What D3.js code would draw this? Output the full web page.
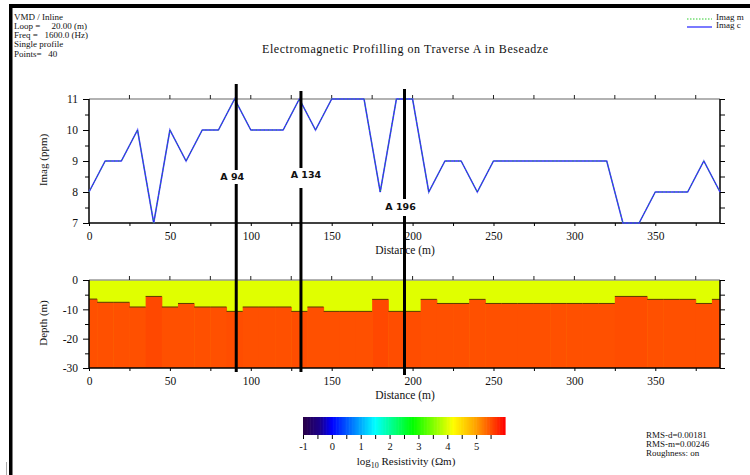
<!DOCTYPE html>
<html>
<head>
<meta charset="utf-8">
<script src="https://cdn.jsdelivr.net/npm/d3@7"></script>
<style>
    body { margin: 0; background: #fff; }
    svg { display: block; }
    text { fill: #111; }
</style>
</head>
<body>
<div id="chart"></div>
<script>
// Station distances (m)
const distances = d3.range(0, 400, 10);

// Imaginary component (ppm), measured and calculated
const imagM = [8, 9, 9, 10, 7, 10, 9, 10, 10, 11, 10, 10, 10, 11, 10, 11, 11, 11, 8, 11,
    11, 8, 9, 9, 8, 9, 9, 9, 9, 9, 9, 9, 9, 7, 7, 8, 8, 8, 9, 8];
const imagC = [8, 9, 9, 10, 7, 10, 9, 10, 10, 11, 10, 10, 10, 11, 10, 11, 11, 11, 8, 11,
    11, 8, 9, 9, 8, 9, 9, 9, 9, 9, 9, 9, 9, 7, 7, 8, 8, 8, 9, 8];

// Depth of the layer boundary below each station (m)
const interfaceDepth = [-6.5, -7.6, -7.6, -9.2, -5.6, -9.2, -8.0, -9.2, -9.2, -10.7,
    -9.2, -9.2, -9.2, -10.7, -9.2, -10.7, -10.7, -10.7, -6.6, -10.7,
    -10.7, -6.6, -8.0, -8.0, -6.6, -8.0, -8.0, -8.0, -8.0, -8.0,
    -8.0, -8.0, -8.0, -5.6, -5.6, -6.6, -6.6, -6.6, -8.0, -6.6];

// log10 resistivity of the two layers
const topLayerRes = 4.03;
const bottomLayerRes = [5.5, 5.5, 5.5, 5.5, 5.55, 5.5, 5.5, 5.5, 5.5, 5.52,
    5.5, 5.5, 5.5, 5.52, 5.5, 5.5, 5.5, 5.5, 5.55, 5.52,
    5.52, 5.5, 5.5, 5.5, 5.5, 5.5, 5.5, 5.5, 5.5, 5.5,
    5.5, 5.5, 5.5, 5.52, 5.52, 5.5, 5.5, 5.5, 5.5, 5.5];

// Annotated anomalies
const markerLabels = ['A 94', 'A 134', 'A 196'];
const markerDistances = [91, 131, 195];

// Tick labels
const distanceTicks = [0, 50, 100, 150, 200, 250, 300, 350];
const imagTicks = [7, 8, 9, 10, 11];
const depthTicks = [0, -10, -20, -30];
const resTicks = [-1, 0, 1, 2, 3, 4, 5];

const headerLines = ['VMD / Inline', 'Loop =     20.00 (m)', 'Freq =   1600.0 (Hz)', 'Single profile', 'Points=   40'];
const statsLines = ['RMS-d=0.00181', 'RMS-m=0.00246', 'Roughness: on'];

const SERIF = "'Liberation Serif', 'DejaVu Serif', serif";
const SANS = "'DejaVu Sans', 'Liberation Sans', sans-serif";

const W = 750, H = 475;
const svg = d3.select('#chart').append('svg')
    .attr('width', W)
    .attr('height', H)
    .style('font-family', SERIF);

// Outer frame (thick black top and left edge)
svg.append('rect').attr('x', 9).attr('y', 4).attr('width', W - 9).attr('height', 4).attr('fill', '#000');
svg.append('rect').attr('x', 9).attr('y', 4).attr('width', 3.5).attr('height', H - 4).attr('fill', '#000');
svg.append('line').attr('x1', 6.5).attr('x2', 6.5).attr('y1', 462).attr('y2', H)
    .attr('stroke', '#aaa').attr('stroke-width', 1);

// Header block
svg.append('g').selectAll('text')
    .data(headerLines)
    .enter()
    .append('text')
    .attr('x', 14)
    .attr('y', (d, i) => 19.5 + i * 9.3)
    .attr('font-size', 9)
    .attr('xml:space', 'preserve')
    .style('white-space', 'pre')
    .text(d => d);

svg.append('text')
    .attr('x', 405).attr('y', 53)
    .attr('text-anchor', 'middle')
    .attr('font-size', 12)
    .attr('textLength', 286)
    .attr('lengthAdjust', 'spacing')
    .text('Electromagnetic Profilling on Traverse A in Beseadze');

// Legend
const legend = [
    { name: 'Imag m', color: '#2ecc2e', dash: '1.5,1.5', w: 1 },
    { name: 'Imag c', color: '#7a7aff', dash: null, w: 2 }
];
legend.forEach((l, i) => {
    svg.append('line')
        .attr('x1', 687).attr('x2', 712)
        .attr('y1', 19 + i * 8).attr('y2', 19 + i * 8)
        .attr('stroke', l.color)
        .attr('stroke-width', l.w)
        .attr('stroke-dasharray', l.dash);
    svg.append('text')
        .attr('x', 716).attr('y', 19.5 + i * 8.5)
        .attr('font-size', 9)
        .text(l.name);
});

// Scales
const x = d3.scaleLinear().domain([0, 390]).range([89, 720]);
const yTop = d3.scaleLinear().domain([7, 11]).range([223, 99]);
const yBot = d3.scaleLinear().domain([-30, 0]).range([368, 280]);
const resColor = d3.scaleLinear()
    .domain([-1, -0.4, 0, 1.5, 2.8, 4.2, 5.0, 6])
    .range(['#2a0046', '#1a008c', '#0000ff', '#00ffff', '#00ff00', '#ffff00', '#ffa000', '#ff0000'])
    .clamp(true);

function drawFrame(y, yDomain, yMinorStep, yLabels, yTitle, yTitleY) {
    const g = svg.append('g');
    const [x0, x1] = x.range();
    const yb = y(yDomain[0]), yt = y(yDomain[1]);

    // top edge in grey with upward ticks
    g.append('line').attr('x1', x0).attr('x2', x1).attr('y1', yt).attr('y2', yt)
        .attr('stroke', '#999').attr('stroke-width', 1.5);
    d3.range(25, 390, 25).forEach(v => {
        g.append('line').attr('x1', x(v)).attr('x2', x(v)).attr('y1', yt - 4).attr('y2', yt)
            .attr('stroke', '#222');
    });

    // bottom axis
    const bottomAxis = d3.axisBottom(x)
        .tickValues(d3.range(0, 390, 25))
        .tickSize(3)
        .tickFormat(d => distanceTicks.includes(d) ? d : '');
    const gb = g.append('g')
        .attr('transform', `translate(0, ${yb})`)
        .call(bottomAxis);
    gb.select('.domain').attr('stroke', '#000').attr('stroke-width', 1.5)
        .attr('d', `M${x0},0H${x1}`);
    gb.selectAll('text').attr('font-size', 11.5).attr('dy', '0.95em')
        .style('font-family', SERIF).attr('fill', '#222');

    // left axis
    const minorTicks = d3.range(yDomain[0], yDomain[1] + 0.001, yMinorStep);
    const leftAxis = d3.axisLeft(y)
        .tickValues(minorTicks)
        .tickSize(4)
        .tickFormat(d => yLabels.includes(d) ? d : '');
    const gl = g.append('g')
        .attr('transform', `translate(${x0}, 0)`)
        .call(leftAxis);
    gl.select('.domain').attr('stroke', '#000').attr('stroke-width', 1.5)
        .attr('d', `M0,${yb}V${yt}`);
    gl.selectAll('.tick line').attr('x2', d => yLabels.includes(d) ? -6 : -4);
    gl.selectAll('text').attr('font-size', 11.5).attr('x', -11)
        .style('font-family', SERIF).attr('fill', '#222');

    // right axis, outward ticks
    const rightAxis = d3.axisRight(y)
        .tickValues(minorTicks)
        .tickSize(5)
        .tickFormat('');
    const gr = g.append('g')
        .attr('transform', `translate(${x1}, 0)`)
        .call(rightAxis);
    gr.select('.domain').attr('stroke', '#000').attr('stroke-width', 1.5)
        .attr('d', `M0,${yb}V${yt}`);

    g.append('text')
        .attr('transform', `translate(47, ${yTitleY}) rotate(-90)`)
        .attr('text-anchor', 'middle')
        .attr('font-size', 11)
        .text(yTitle);
    g.append('text')
        .attr('x', 405).attr('y', yb + 31)
        .attr('text-anchor', 'middle')
        .attr('font-size', 11.5)
        .text('Distance (m)');
}

// Lower panel: two-layer resistivity section
const cells = distances.map((d, i) => ({
    left: Math.max(0, d - 5),
    right: Math.min(390, d + 5),
    depth: interfaceDepth[i],
    res: bottomLayerRes[i]
}));
const section = svg.append('g');
section.append('rect')
    .attr('x', x(0)).attr('y', yBot(0))
    .attr('width', x(390) - x(0)).attr('height', yBot(-30) - yBot(0))
    .attr('fill', resColor(topLayerRes));
section.selectAll('rect.lower')
    .data(cells)
    .enter()
    .append('rect')
    .attr('class', 'lower')
    .attr('x', d => x(d.left))
    .attr('y', d => yBot(d.depth))
    .attr('width', d => x(d.right) - x(d.left) + 0.5)
    .attr('height', d => yBot(-30) - yBot(d.depth))
    .attr('fill', d => resColor(d.res));
section.selectAll('line.iface')
    .data(cells)
    .enter()
    .append('line')
    .attr('class', 'iface')
    .attr('x1', d => x(d.left)).attr('x2', d => x(d.right))
    .attr('y1', d => yBot(d.depth)).attr('y2', d => yBot(d.depth))
    .attr('stroke', '#5a3a00').attr('stroke-width', 1);

drawFrame(yTop, [7, 11], 0.5, imagTicks, 'Imag (ppm)', 160);
drawFrame(yBot, [-30, 0], 5, depthTicks, 'Depth (m)', 323);

// Profile curves
const line = d3.line().x(d => x(d[0])).y(d => yTop(d[1]));
svg.append('path')
    .datum(distances.map((d, i) => [d, imagC[i]]))
    .attr('fill', 'none')
    .attr('stroke', '#6a6aff')
    .attr('stroke-width', 1.6)
    .attr('d', line);
svg.append('path')
    .datum(distances.map((d, i) => [d, imagC[i]]))
    .attr('fill', 'none')
    .attr('stroke', '#1a1ae6')
    .attr('stroke-width', 0.8)
    .attr('d', line);
svg.append('path')
    .datum(distances.map((d, i) => [d, imagM[i]]))
    .attr('fill', 'none')
    .attr('stroke', '#22cc22')
    .attr('stroke-width', 0.8)
    .attr('stroke-dasharray', '1,3')
    .attr('d', line);

// Anomaly markers
const markerLayout = [
    { top: 84, bottom: 372, gapTop: 170, gapBottom: 184, labelY: 180, dx: -4 },
    { top: 91, bottom: 372, gapTop: 168, gapBottom: 188, labelY: 178, dx: 5 },
    { top: 89, bottom: 375, gapTop: 199, gapBottom: 216, labelY: 210, dx: -4 }
];
markerLabels.forEach((label, i) => {
    const mx = x(markerDistances[i]);
    const m = markerLayout[i];
    svg.append('line').attr('x1', mx).attr('x2', mx).attr('y1', m.top).attr('y2', m.gapTop)
        .attr('stroke', '#000').attr('stroke-width', 3);
    svg.append('line').attr('x1', mx).attr('x2', mx).attr('y1', m.gapBottom).attr('y2', m.bottom)
        .attr('stroke', '#000').attr('stroke-width', 3);
    svg.append('text')
        .attr('x', mx + m.dx).attr('y', m.labelY)
        .attr('text-anchor', 'middle')
        .style('font-family', SANS)
        .attr('font-weight', 'bold')
        .attr('font-size', 9.5)
        .attr('fill', '#111')
        .text(label);
});

// Colour bar
const cb = svg.append('g');
const cbX = d3.scaleLinear().domain([-1, 6]).range([303, 505]);
const steps = d3.range(-1, 6, 0.05);
cb.selectAll('rect')
    .data(steps)
    .enter()
    .append('rect')
    .attr('x', d => cbX(d))
    .attr('y', 417)
    .attr('width', cbX(0.05) - cbX(0) + 0.6)
    .attr('height', 18)
    .attr('fill', d => resColor(d + 0.025));
const cbAxis = d3.axisBottom(cbX)
    .tickValues(d3.range(-1, 6, 0.5))
    .tickSize(4)
    .tickFormat(d => resTicks.includes(d) ? d : '');
const gcb = cb.append('g')
    .attr('transform', 'translate(0, 435)')
    .call(cbAxis);
gcb.select('.domain').remove();
gcb.selectAll('text').attr('font-size', 10.5).attr('dy', '0.75em')
    .style('font-family', SERIF).attr('fill', '#222');
const cbLabel = cb.append('text')
    .attr('x', 406).attr('y', 465)
    .attr('text-anchor', 'middle')
    .attr('font-size', 11);
cbLabel.append('tspan').text('log');
cbLabel.append('tspan').attr('font-size', 8).attr('dy', 3).text('10');
cbLabel.append('tspan').attr('dy', -3).text(' Resistivity (\u03A9m)');

// Fit statistics
svg.append('g').selectAll('text')
    .data(statsLines)
    .enter()
    .append('text')
    .attr('x', 646)
    .attr('y', (d, i) => 438 + i * 9)
    .attr('font-size', 9)
    .text(d => d);
</script>
</body>
</html>
